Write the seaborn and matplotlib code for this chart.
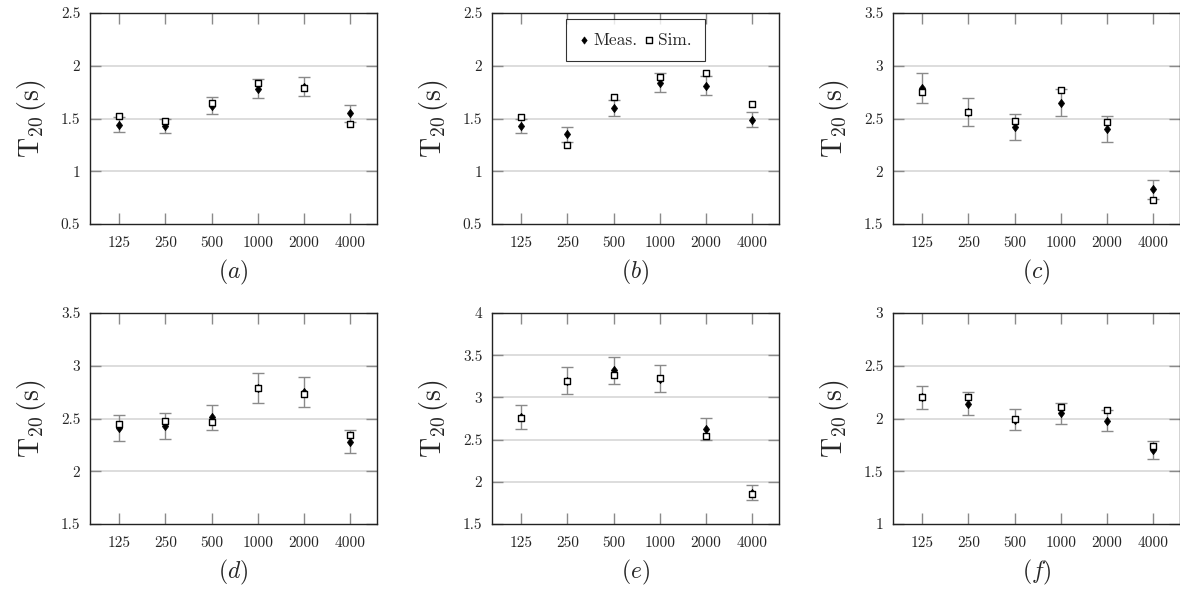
import matplotlib
matplotlib.use("Agg")
import matplotlib.pyplot as plt
import seaborn as sns
import pandas as pd
import numpy as np

sns.set_theme(style="white")
plt.rcParams['font.family'] = ['cmr10', 'DejaVu Serif']
plt.rcParams['mathtext.fontset'] = 'cm'
plt.rcParams['axes.unicode_minus'] = False

freqs = ["125", "250", "500", "1000", "2000", "4000"]

meas_a = [1.44, 1.43, 1.62, 1.78, 1.80, 1.55]
sim_a = [1.52, 1.48, 1.65, 1.835, 1.79, 1.45]
err_a = [0.07, 0.07, 0.08, 0.09, 0.09, 0.08]

meas_b = [1.43, 1.35, 1.60, 1.84, 1.81, 1.49]
sim_b = [1.51, 1.25, 1.70, 1.89, 1.93, 1.64]
err_b = [0.07, 0.07, 0.08, 0.09, 0.09, 0.07]

meas_c = [2.79, 2.56, 2.42, 2.65, 2.40, 1.83]
sim_c = [2.75, 2.56, 2.48, 2.77, 2.47, 1.725]
err_c = [0.14, 0.13, 0.12, 0.13, 0.12, 0.09]

meas_d = [2.41, 2.43, 2.51, 2.79, 2.75, 2.28]
sim_d = [2.45, 2.48, 2.47, 2.79, 2.73, 2.34]
err_d = [0.12, 0.12, 0.12, 0.14, 0.14, 0.11]

meas_e = [2.77, 3.20, 3.32, 3.22, 2.63, 1.87]
sim_e = [2.76, 3.19, 3.26, 3.23, 2.54, 1.85]
err_e = [0.14, 0.16, 0.16, 0.16, 0.13, 0.09]

meas_f = [2.20, 2.14, 1.99, 2.05, 1.98, 1.70]
sim_f = [2.20, 2.20, 2.00, 2.11, 2.08, 1.74]
err_f = [0.11, 0.11, 0.10, 0.10, 0.10, 0.085]

panels = [
    ("a", meas_a, sim_a, err_a, (0.5, 2.5), [0.5, 1, 1.5, 2, 2.5], ["0.5", "1", "1.5", "2", "2.5"]),
    ("b", meas_b, sim_b, err_b, (0.5, 2.5), [0.5, 1, 1.5, 2, 2.5], ["0.5", "1", "1.5", "2", "2.5"]),
    ("c", meas_c, sim_c, err_c, (1.5, 3.5), [1.5, 2, 2.5, 3, 3.5], ["1.5", "2", "2.5", "3", "3.5"]),
    ("d", meas_d, sim_d, err_d, (1.5, 3.5), [1.5, 2, 2.5, 3, 3.5], ["1.5", "2", "2.5", "3", "3.5"]),
    ("e", meas_e, sim_e, err_e, (1.5, 4.0), [1.5, 2, 2.5, 3, 3.5, 4], ["1.5", "2", "2.5", "3", "3.5", "4"]),
    ("f", meas_f, sim_f, err_f, (1.0, 3.0), [1, 1.5, 2, 2.5, 3], ["1", "1.5", "2", "2.5", "3"]),
]

W, H = 1180, 590
fig = plt.figure(figsize=(W / 100, H / 100), dpi=100)

lefts = [90, 492, 893]
tops = [13, 313]
aw, ah = 287, 211

diamond = [(0, 1), (0.75, 0), (0, -1), (-0.75, 0), (0, 1)]

for i, (cap, meas, sim, err, ylim, yt, ytl) in enumerate(panels):
    r, c = divmod(i, 3)
    l = lefts[c]
    t = tops[r]
    ax = fig.add_axes([l / W, 1 - (t + ah) / H, aw / W, ah / H])
    pos = np.arange(len(freqs))
    df = pd.DataFrame({"pos": pos, "meas": meas, "sim": sim, "err": err})

    for y in yt[1:-1]:
        ax.axhline(y, color="#d3d3d3", lw=1.1, zorder=0)

    ax.errorbar(df["pos"], df["meas"], yerr=df["err"], fmt="none",
                ecolor="#8a8a8a", elinewidth=1.0, capsize=4.5, capthick=1.0, zorder=2)
    sns.scatterplot(data=df, x="pos", y="meas", marker=diamond, s=38, color="black",
                    edgecolor="black", linewidth=0.4, ax=ax, zorder=3, label="Meas.", legend=False)
    sns.scatterplot(data=df, x="pos", y="sim", marker="s", s=24, facecolor="white",
                    edgecolor="black", linewidth=1.0, ax=ax, zorder=4, label="Sim.", legend=False)

    ax.set_xlim(-0.63, 5.58)
    ax.set_ylim(*ylim)
    ax.set_xticks(pos)
    ax.set_xticklabels(freqs, fontsize=11)
    ax.set_yticks(yt)
    ax.set_yticklabels(ytl, fontsize=11)
    ax.tick_params(axis="both", which="both", direction="in", length=8, width=1.0,
                   color="#8a8a8a", top=True, right=True, bottom=True, left=True)
    ax.tick_params(axis="x", pad=9)
    ax.tick_params(axis="y", pad=7)
    for sp in ax.spines.values():
        sp.set_color("#222222")
        sp.set_linewidth(1.0)
    ax.set_xlabel("")
    ax.set_ylabel(r"$\mathrm{T}_{20}\,(\mathrm{s})$", fontsize=20, labelpad=9)
    ax.text(0.5, -0.228, r"$\mathit{(" + cap + r")}$", transform=ax.transAxes,
            ha="center", va="center", fontsize=17)

    if cap == "b":
        h, lab = ax.get_legend_handles_labels()
        leg = ax.legend(h, lab, loc="upper center", bbox_to_anchor=(0.5, 0.97), ncol=2,
                        frameon=True, fancybox=False, fontsize=12.5, handlelength=0.5,
                        handletextpad=0.3, columnspacing=0.4, borderpad=0.75,
                        borderaxespad=0.0, markerscale=0.85)
        leg.get_frame().set_edgecolor("black")
        leg.get_frame().set_linewidth(0.8)

fig.savefig("out.png", dpi=100)
